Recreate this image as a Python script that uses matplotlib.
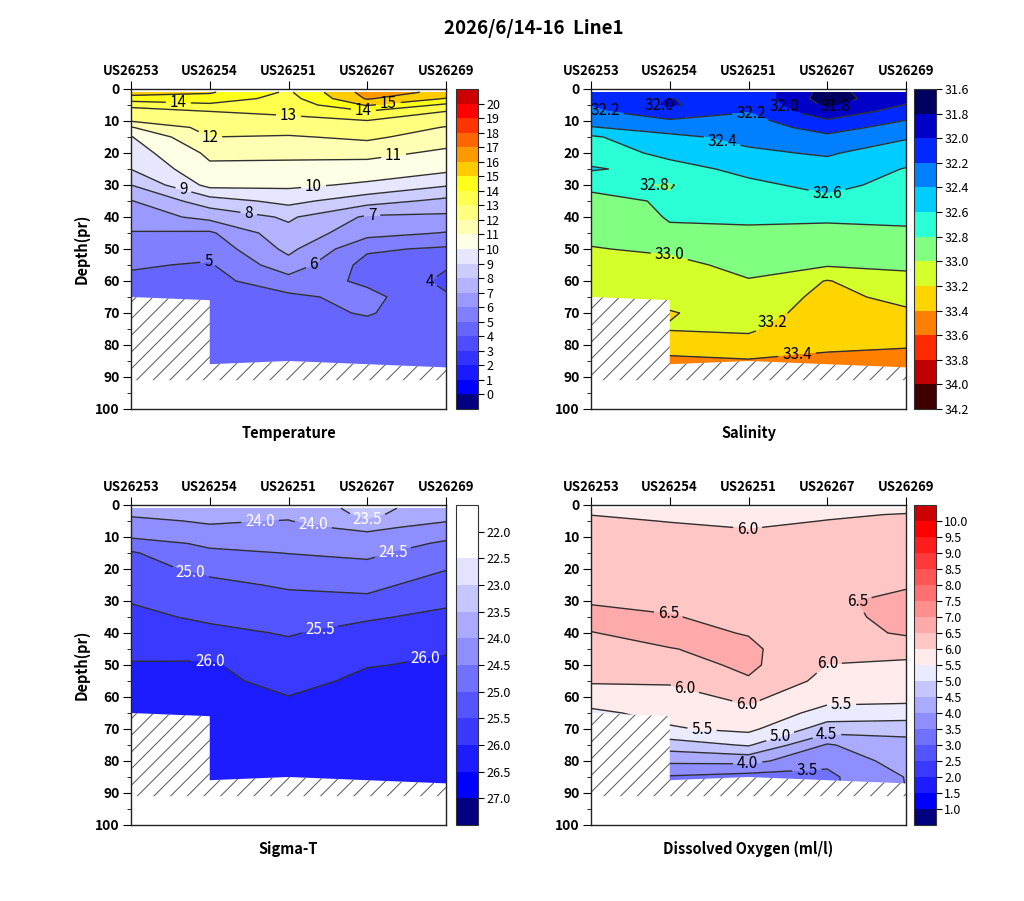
import numpy as np
import matplotlib
matplotlib.use("Agg")
import matplotlib.pyplot as plt
from matplotlib.patches import Polygon

plt.rcParams['font.family'] = ['Noto Sans CJK JP', 'DejaVu Sans']
plt.rcParams['hatch.linewidth'] = 0.7
plt.rcParams['axes.linewidth'] = 1.0

# ---------------- data ----------------
stations = ['US26253', 'US26254', 'US26251', 'US26267', 'US26269']
depths = [1, 3, 5, 7, 10, 12, 15, 20, 25, 30, 35, 40, 45, 50, 55, 60, 65, 70, 75, 80, 85, 90]
bottom_x = [0, 1, 1, 2, 3, 4]
bottom_depth = [65, 66, 86, 85, 86, 87]
hatch_limit = 91

temperature = [
    [15.4, 14.6, 13.2, 12.7, 12.05, 10.95, 9.95, 9.5, 9.02, 8.0, 6.95, 6.45, 5.95, 5.5, 5.1, 4.8, 4.6, 4.6, 4.6, 4.6, 4.6, 4.6],
    [15.1, 14.6, 13.8, 13.0, 12.6, 12.35, 12.0, 11.2, 10.8, 10.3, 8.55, 7.3, 5.85, 5.35, 4.9, 4.7, 4.55, 4.5, 4.45, 4.4, 4.35, 4.35],
    [13.85, 13.6, 13.35, 13.15, 12.8, 12.5, 11.9, 11.2, 10.75, 10.2, 9.3, 8.15, 7.7, 7.25, 6.6, 5.6, 4.8, 4.6, 4.5, 4.4, 4.35, 4.35],
    [16.4, 16.1, 15.1, 13.95, 12.95, 12.6, 12.2, 11.3, 10.55, 9.85, 8.4, 6.85, 6.35, 5.15, 4.65, 4.8, 5.3, 5.1, 4.6, 4.5, 4.45, 4.45],
    [15.8, 14.95, 13.8, 13.0, 12.35, 11.95, 11.5, 10.8, 10.25, 9.1, 7.75, 6.8, 5.95, 4.85, 4.1, 3.8, 4.1, 4.2, 4.25, 4.3, 4.3, 4.3],
]
salinity = [
    [32.12, 32.16, 32.19, 32.24, 32.33, 32.41, 32.63, 32.7, 32.58, 32.76, 32.85, 32.9, 32.95, 33.01, 33.03, 33.1, 33.15, 33.15, 33.15, 33.15, 33.15, 33.15],
    [32.05, 31.99, 31.97, 32.05, 32.23, 32.32, 32.44, 32.55, 32.67, 32.81, 32.78, 32.79, 32.82, 32.97, 33.05, 33.1, 33.15, 33.21, 33.19, 33.3, 33.45, 33.45],
    [32.15, 32.15, 32.17, 32.19, 32.27, 32.3, 32.35, 32.43, 32.55, 32.64, 32.7, 32.77, 32.83, 32.88, 32.95, 33.01, 33.08, 33.13, 33.18, 33.25, 33.42, 33.42],
    [31.72, 31.7, 31.76, 31.85, 32.03, 32.12, 32.24, 32.38, 32.47, 32.55, 32.64, 32.77, 32.85, 32.88, 32.98, 33.21, 33.25, 33.27, 33.3, 33.36, 33.45, 33.45],
    [31.98, 31.96, 32.01, 32.1, 32.21, 32.28, 32.38, 32.5, 32.61, 32.66, 32.7, 32.76, 32.83, 32.9, 32.97, 33.05, 33.15, 33.23, 33.28, 33.38, 33.48, 33.48],
]
sigma_t = [
    [23.85, 23.95, 24.1, 24.25, 24.45, 24.75, 25.05, 25.15, 25.3, 25.48, 25.6, 25.75, 25.9, 26.03, 26.1, 26.15, 26.2, 26.2, 26.2, 26.2, 26.2, 26.2],
    [23.8, 23.85, 23.95, 24.05, 24.25, 24.4, 24.6, 24.9, 25.1, 25.25, 25.43, 25.6, 25.85, 26.05, 26.12, 26.18, 26.22, 26.25, 26.27, 26.3, 26.3, 26.3],
    [23.8, 23.9, 24.02, 24.1, 24.2, 24.28, 24.49, 24.72, 24.95, 25.12, 25.3, 25.47, 25.6, 25.72, 25.85, 26.01, 26.15, 26.2, 26.25, 26.28, 26.3, 26.3],
    [23.35, 23.4, 23.52, 23.9, 24.12, 24.2, 24.4, 24.65, 24.88, 25.1, 25.45, 25.65, 25.82, 25.98, 26.1, 26.18, 26.22, 26.25, 26.27, 26.3, 26.3, 26.3],
    [23.75, 23.85, 23.98, 24.15, 24.4, 24.58, 24.75, 24.98, 25.2, 25.42, 25.6, 25.75, 25.97, 26.05, 26.12, 26.2, 26.22, 26.25, 26.28, 26.3, 26.32, 26.32],
]
oxygen = [
    [5.85, 5.99, 6.1, 6.15, 6.2, 6.22, 6.25, 6.3, 6.4, 6.47, 6.6, 6.49, 6.4, 6.25, 6.05, 5.75, 5.4, 5.4, 5.4, 5.4, 5.4, 5.4],
    [5.8, 5.9, 5.98, 6.08, 6.15, 6.2, 6.25, 6.3, 6.35, 6.42, 6.52, 6.6, 6.49, 6.3, 6.05, 5.85, 5.65, 5.45, 4.75, 4.1, 3.45, 3.4],
    [5.8, 5.85, 5.92, 5.98, 6.08, 6.12, 6.18, 6.25, 6.3, 6.35, 6.4, 6.48, 6.58, 6.6, 6.45, 6.1, 5.9, 5.62, 5.05, 4.15, 3.3, 3.3],
    [5.85, 5.95, 6.01, 6.1, 6.15, 6.2, 6.25, 6.3, 6.4, 6.45, 6.4, 6.3, 6.15, 5.99, 5.85, 5.7, 5.3, 4.75, 3.95, 3.6, 3.4, 3.4],
    [5.9, 6.02, 6.1, 6.15, 6.2, 6.22, 6.25, 6.35, 6.47, 6.58, 6.6, 6.56, 6.2, 5.9, 5.75, 5.6, 5.35, 4.6, 4.4, 4.25, 4.02, 4.0],
]

temp_levels = list(range(-1, 22))
temp_ticks = list(range(0, 21))
sal_levels = [round(31.6 + 0.2 * i, 1) for i in range(14)]
sigma_levels = [21.5 + 0.5 * i for i in range(13)]
sigma_ticks = [22.0 + 0.5 * i for i in range(11)]
do_levels = [0.5 + 0.5 * i for i in range(21)]
do_ticks = [1.0 + 0.5 * i for i in range(19)]

# ---------------- colours ----------------
def hexrgb(r, g, b):
    return '#%02x%02x%02x' % (int(r), int(g), int(b))

temp_colors = (['#000080'] + [hexrgb(v, v, 255) for v in [0, 26, 51, 77, 102, 128, 153, 179, 204, 230]]
               + ['#ffffe6', '#ffffb3', '#ffff80', '#ffff4d', '#ffff1a',
                  '#ffcc00', '#ff9900', '#ff6600', '#ff3300', '#ff0000', '#cc0000'])
sal_colors = ['#000060', '#0000c8', '#0028ff', '#0080ff', '#00ccff', '#2affd5', '#80ff80',
              '#d5ff2a', '#ffd500', '#ff8000', '#ff2b00', '#c00000', '#400000']
sigma_colors = (['#ffffff', '#ffffff'] + [hexrgb(v, v, 255) for v in [227, 198, 170, 142, 113, 85, 57, 28, 0]]
                + ['#000080'])
do_colors = (['#000080'] + [hexrgb(v, v, 255) for v in [0, 28, 57, 85, 113, 142, 170, 198, 235]]
             + [hexrgb(255, v, v) for v in [235, 198, 170, 142, 113, 85, 57, 28, 0]] + ['#cc0000'])

W, H = 1024, 901
fig = plt.figure(figsize=(W / 100, H / 100), dpi=100)
fig.text(534 / W, 1 - 28 / H, '2026/6/14-16  Line1', ha='center', va='center',
         fontsize=13.5, fontweight='bold')

def rect(l, t, r, b):
    return [l / W, 1 - b / H, (r - l) / W, (b - t) / H]

X = np.arange(len(stations))
D = np.array(depths)

def panel(axr, caxr, values, levels, colors, ticks, fmt, invert_cb, labels, label_color,
          title, ylabel):
    ax = fig.add_axes(rect(*axr))
    cax = fig.add_axes(rect(*caxr))
    Z = np.array(values).T
    cf = ax.contourf(X, D, Z, levels=levels, colors=colors)
    cl = ax.contour(X, D, Z, levels=levels[1:-1], colors='#303030', linewidths=1.0)
    texts = ax.clabel(cl, manual=labels, fmt=lambda v: fmt % v, fontsize=11,
                      colors=label_color, inline=True, inline_spacing=4)
    for t in texts:
        t.set_rotation(0)
    poly = list(zip(bottom_x, bottom_depth)) + [(bottom_x[-1], hatch_limit), (bottom_x[0], hatch_limit)]
    ax.add_patch(Polygon(poly, closed=True, facecolor='white', edgecolor='#555555',
                         hatch='//', linewidth=0, zorder=2.5))
    ax.set_xlim(0, 4)
    ax.set_ylim(100, 0)
    ax.xaxis.tick_top()
    ax.set_xticks(X)
    ax.set_xticklabels(stations, fontsize=9.5, fontweight='bold')
    ax.tick_params(axis='x', which='major', direction='out', length=6, pad=2,
                   top=True, bottom=False)
    ax.set_yticks(range(0, 101, 10))
    ax.set_yticks(range(5, 100, 10), minor=True)
    ax.set_yticklabels([str(v) for v in range(0, 101, 10)], fontsize=10, fontweight='bold')
    ax.tick_params(axis='y', which='major', direction='out', length=6, pad=2)
    ax.tick_params(axis='y', which='minor', direction='out', length=3)
    for s in ax.spines.values():
        s.set_color('#222222')
    ax.text(0.5, -0.075, title, transform=ax.transAxes, ha='center', va='center',
            fontsize=10.5, fontweight='bold')
    if ylabel:
        ax.set_ylabel(ylabel, fontsize=10.5, fontweight='bold', labelpad=4)
    cb = fig.colorbar(cf, cax=cax, ticks=ticks)
    cb.ax.set_yticklabels([fmt % t for t in ticks])
    cb.ax.tick_params(labelsize=9, length=4, direction='out', pad=2)
    cb.outline.set_linewidth(0.8)
    cb.outline.set_edgecolor('#333333')
    if invert_cb:
        cax.invert_yaxis()
    return ax

panel((131, 89, 446, 409), (456, 89, 478, 409), temperature, temp_levels, temp_colors,
      temp_ticks, '%d', False,
      [(0.60, 4.9), (2.0, 8.5), (2.95, 7.0), (3.27, 4.9), (1.0, 15.0), (3.33, 20.2),
       (2.32, 30.9), (0.66, 31.9), (1.5, 38.1), (3.06, 38.1), (2.28, 53.7), (0.98, 53.0),
       (3.67, 56.9)], 'black', 'Temperature', 'Depth(pr)')

panel((591, 89, 906, 409), (914, 89, 936, 409), salinity, sal_levels, sal_colors,
      sal_levels, '%.1f', True,
      [(0.21, 4.9), (0.79, 5.9), (2.06, 6.0), (2.48, 4.9), (3.1, 5.4), (1.64, 18.7),
       (0.73, 30.1), (2.99, 33.5), (1.0, 51.5), (2.27, 72.1), (2.61, 81.8)],
      'black', 'Salinity', None)

panel((131, 505, 446, 825), (456, 505, 478, 825), sigma_t, sigma_levels, sigma_colors,
      sigma_ticks, '%.1f', True,
      [(1.64, 5.2), (2.32, 5.7), (2.99, 5.4), (3.33, 15.1), (0.77, 20.1), (2.4, 39.2),
       (1.0, 47.8), (3.71, 45.5)], 'white', 'Sigma-T', 'Depth(pr)')

panel((591, 505, 906, 825), (914, 505, 936, 825), oxygen, do_levels, do_colors,
      do_ticks, '%.1f', False,
      [(1.99, 7.6), (1.0, 31.2), (3.18, 28.1), (2.99, 47.0), (1.21, 56.1), (1.99, 61.0),
       (3.18, 61.0), (1.41, 70.0), (2.4, 72.2), (2.99, 71.4), (1.99, 81.0), (2.74, 82.6)],
      'black', 'Dissolved Oxygen (ml/l)', None)

fig.savefig('out.png', dpi=100)
